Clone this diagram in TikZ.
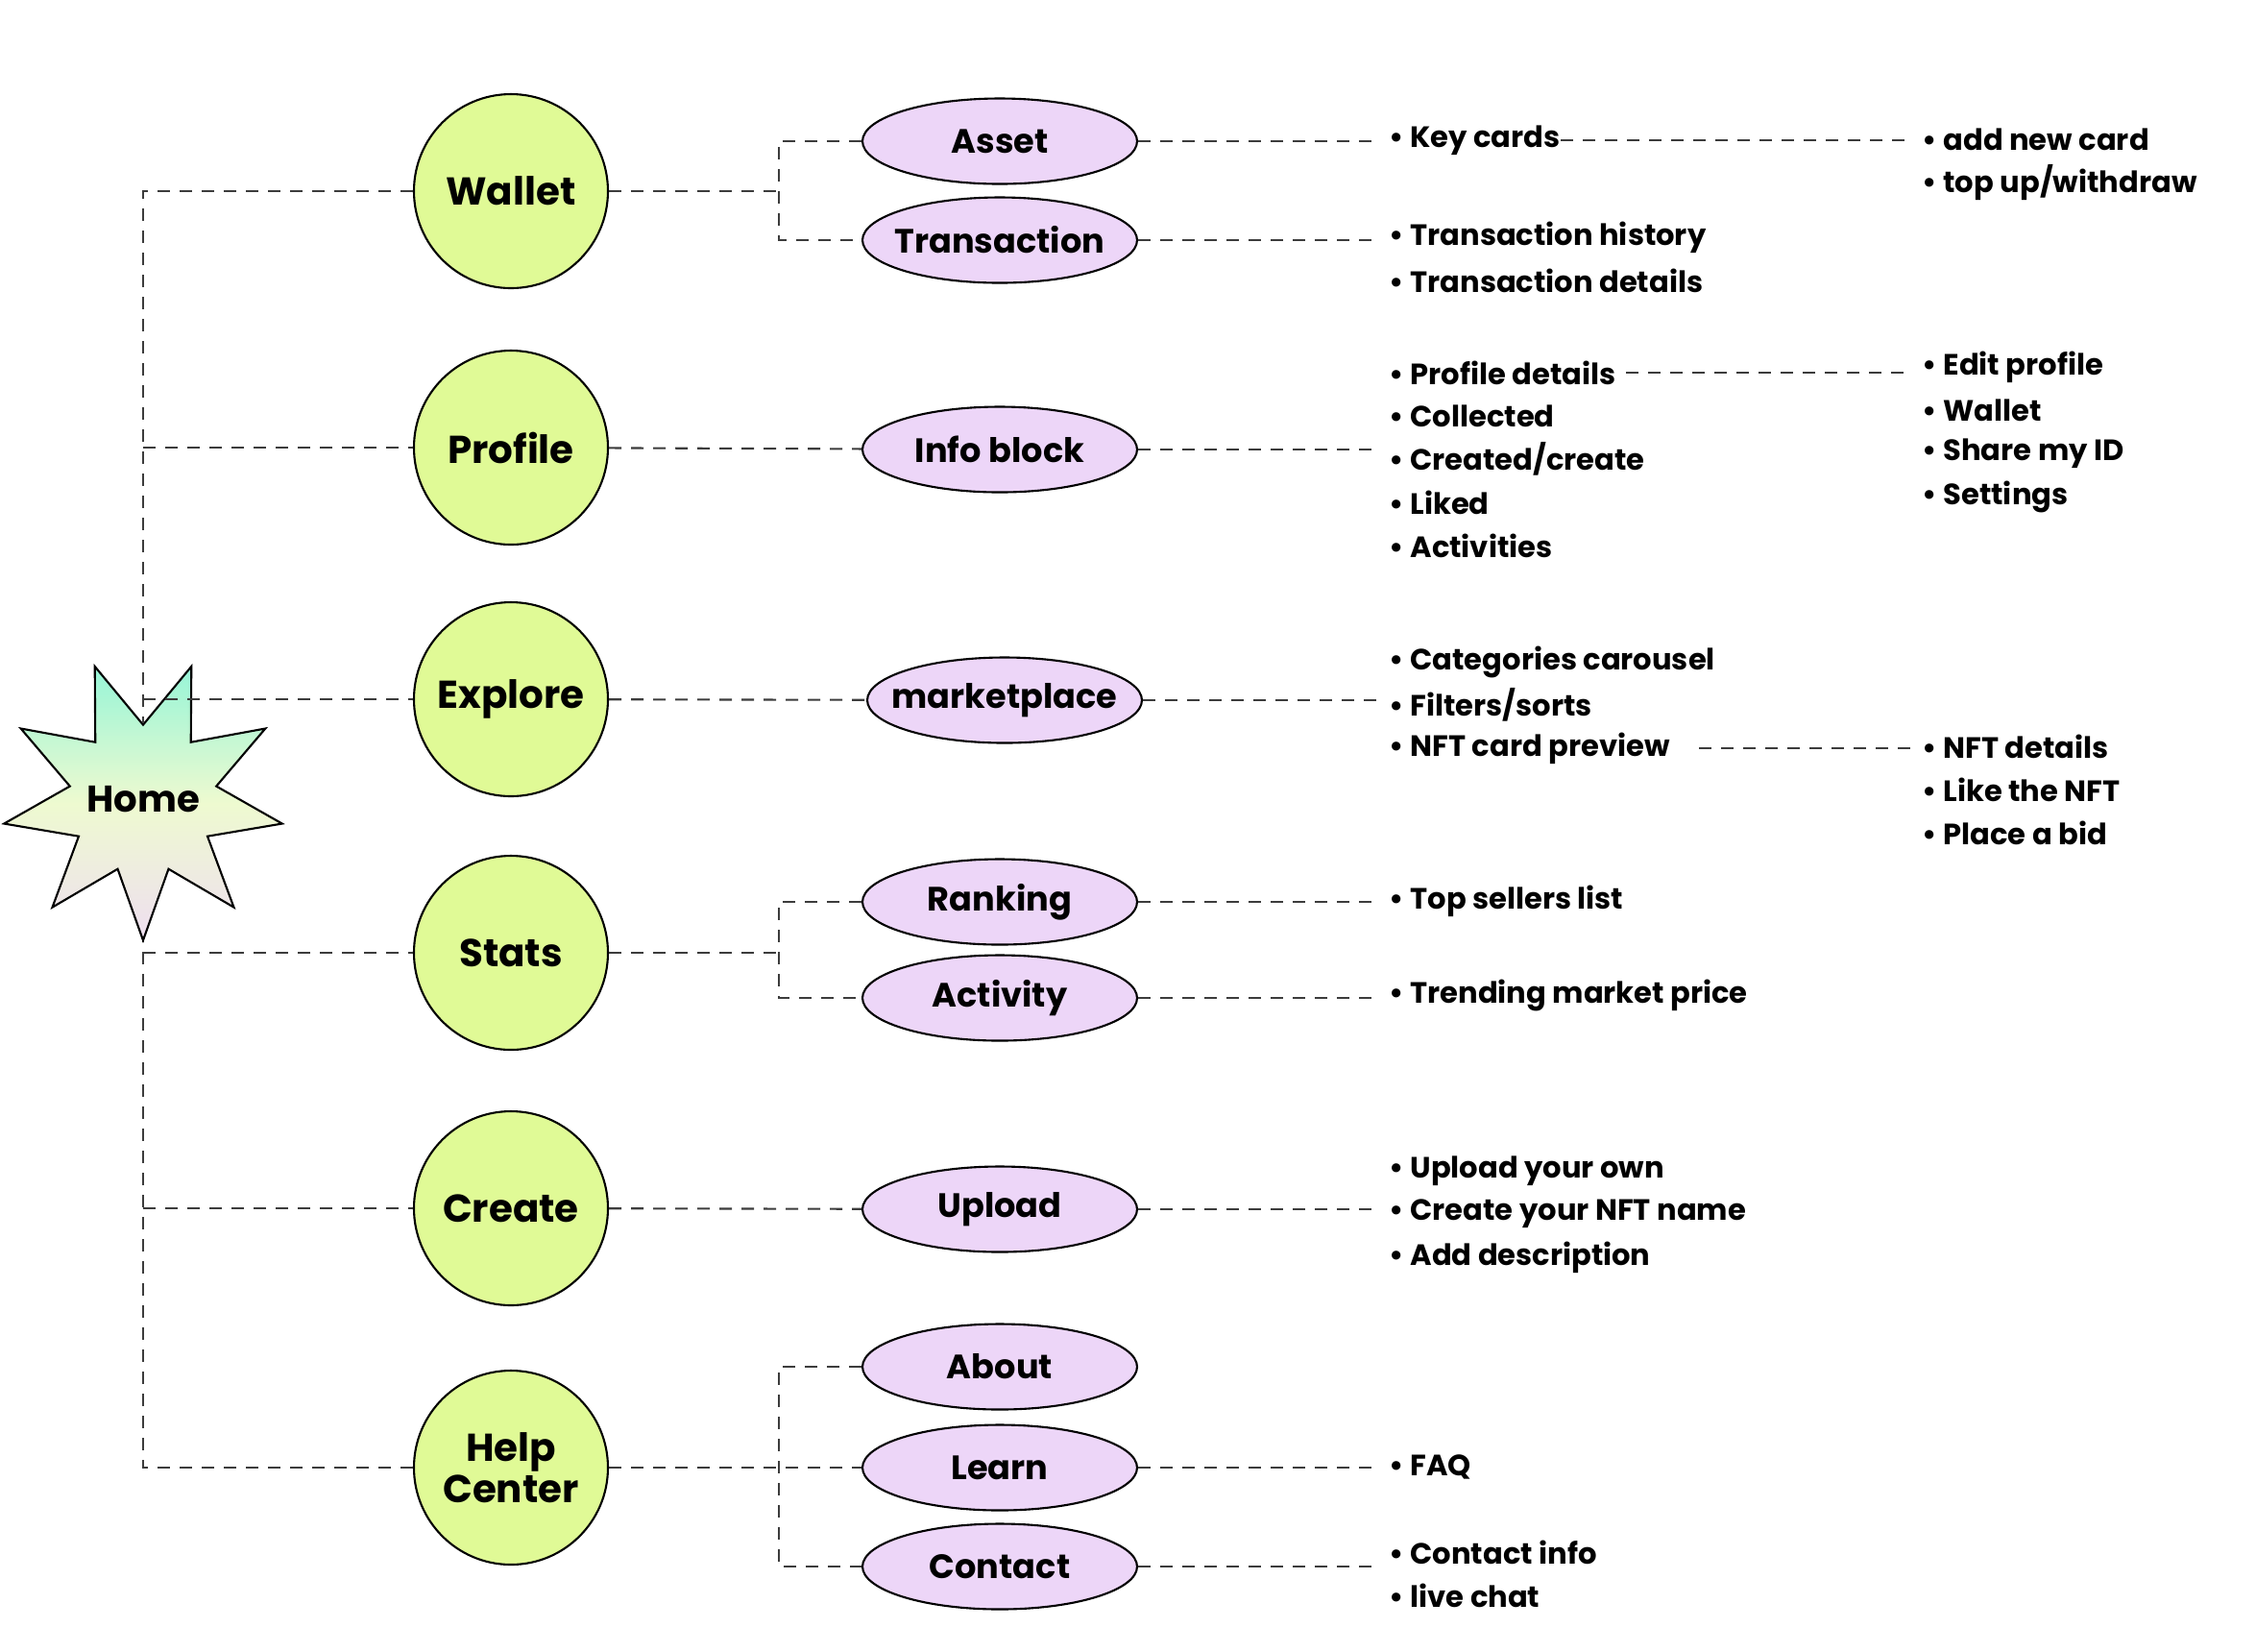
\documentclass[tikz,border=0pt]{standalone}
\usepackage{fontspec}
\setmainfont{Poppins}
\definecolor{hubgreen}{RGB}{224,250,150}
\definecolor{leaflilac}{RGB}{237,214,248}
\definecolor{starmint}{RGB}{150,245,215}
\definecolor{starcream}{RGB}{238,250,208}
\definecolor{starmauve}{RGB}{238,222,240}
\definecolor{linkgray}{RGB}{60,60,60}
\usetikzlibrary{shapes.geometric,positioning}

\begin{document}
\begin{tikzpicture}[
  homestar/.style={
    star, star points=9, star point ratio=1.9,
    shape border rotate=180,
    minimum size=2.94cm, inner sep=-0.3cm,
    draw=black, line width=0.6pt,
    top color=starmint, bottom color=starmauve, middle color=starcream,
    font=\bfseries\fontsize{11}{12}\selectfont
  },
  hub/.style={
    circle, minimum size=2.02cm, inner sep=0pt,
    draw=black, line width=0.6pt,
    fill=hubgreen,
    align=center,
    font=\bfseries\fontsize{11.5}{11}\selectfont
  },
  leaf/.style={
    ellipse, minimum width=2.86cm, minimum height=0.89cm,
    inner xsep=-0.5cm, inner ysep=0pt,
    draw=black, line width=0.6pt,
    fill=leaflilac,
    font=\bfseries\fontsize{10}{12}\selectfont
  },
  item/.style={anchor=west, inner xsep=0.1cm, inner ysep=0.04cm,
    font=\bfseries\fontsize{8.7}{10}\selectfont},
  link/.style={draw=linkgray, line width=0.6pt, dash pattern=on 0.13cm off 0.1cm}
]
\useasboundingbox (0,0) rectangle (23.49,-17.19);

% main branches
\node[hub] (wallet)  at (5.32,-1.99)  {Wallet};
\node[hub] (profile) at (5.32,-4.66)  {Profile};
\node[hub] (explore) at (5.32,-7.28)  {Explore};
\node[hub] (stats)   at (5.32,-9.92)  {Stats};
\node[hub] (create)  at (5.32,-12.58) {Create};
\node[hub] (help)    at (5.32,-15.28) {Help\\Center};

% trunk first, star on top
\draw[link] (wallet) -| (1.49,-8.32);
\draw[link] (help) -| (1.49,-8.32);
\node[homestar] (home) at (1.49,-8.32) {Home};
\draw[link] (wallet) -| (home);
\draw[link] (help) -| (home);
\draw[link] (home |- profile) -- (profile);
\draw[link] (home |- explore) -- (explore);
\draw[link] (home |- stats) -- (stats);
\draw[link] (home |- create) -- (create);

% second level
\node[leaf] (asset)    at (10.41,-1.47)  {Asset};
\node[leaf] (trans)    at (10.41,-2.50)  {Transaction};
\node[leaf] (info)     at (10.41,-4.68)  {Info block};
\node[leaf] (market)   at (10.46,-7.29)  {marketplace};
\node[leaf] (ranking)  at (10.41,-9.39)  {Ranking};
\node[leaf] (activity) at (10.41,-10.39) {Activity};
\node[leaf] (upload)   at (10.41,-12.59) {Upload};
\node[leaf] (about)    at (10.41,-14.23) {About};
\node[leaf] (learn)    at (10.41,-15.28) {Learn};
\node[leaf] (contact)  at (10.41,-16.31) {Contact};

\coordinate (wfork) at (8.11,-1.99);
\coordinate (sfork) at (8.11,-9.92);
\coordinate (hfork) at (8.11,-15.28);

\draw[link] (wallet) -- (wfork);
\draw[link] (asset) -| (wfork) |- (trans);
\draw[link] (profile) -- (info);
\draw[link] (explore) -- (market);
\draw[link] (stats) -- (sfork);
\draw[link] (ranking) -| (sfork) |- (activity);
\draw[link] (create) -- (upload);
\draw[link] (help) -- (learn);
\draw[link] (about) -| (hfork) |- (contact);

% lists
\node[item] (kc) at (14.36,-1.46) {\textbullet\ Key cards};
\foreach \t [count=\i] in {Transaction history, Transaction details}
  \node[item] (tr\i) at (14.36,{-2.47-0.45*(\i-1)}) {\textbullet\ \t};
\foreach \t [count=\i] in {Profile details, Collected, Created/create, Liked, Activities}
  \node[item] (pr\i) at (14.36,{-3.88-0.45*(\i-1)}) {\textbullet\ \t};
\foreach \t [count=\i] in {Categories carousel, Filters/sorts, NFT card preview}
  \node[item] (mk\i) at (14.36,{-6.89-0.45*(\i-1)}) {\textbullet\ \t};
\node[item] (ts) at (14.36,-9.38)  {\textbullet\ Top sellers list};
\node[item] (tm) at (14.36,-10.36) {\textbullet\ Trending market price};
\foreach \t [count=\i] in {Upload your own, Create your NFT name, Add description}
  \node[item] (up\i) at (14.36,{-12.19-0.45*(\i-1)}) {\textbullet\ \t};
\node[item] (faq) at (14.36,-15.27) {\textbullet\ FAQ};
\foreach \t [count=\i] in {Contact info, live chat}
  \node[item] (ct\i) at (14.36,{-16.16-0.45*(\i-1)}) {\textbullet\ \t};

\foreach \t [count=\i] in {add new card, top up/withdraw}
  \node[item] (ad\i) at (19.91,{-1.45-0.45*(\i-1)}) {\textbullet\ \t};
\foreach \t [count=\i] in {Edit profile, Wallet, Share my ID, Settings}
  \node[item] (ed\i) at (19.91,{-3.82-0.45*(\i-1)}) {\textbullet\ \t};
\foreach \t [count=\i] in {NFT details, Like the NFT, Place a bid}
  \node[item] (nd\i) at (19.91,{-7.77-0.45*(\i-1)}) {\textbullet\ \t};

\draw[link] (asset) -- (asset -| kc.west);
\draw[link] (trans) -- (trans -| tr1.west);
\draw[link] (info) -- (info -| pr1.west);
\draw[link] (market) -- (market -| mk1.west);
\draw[link] (ranking) -- (ranking -| ts.west);
\draw[link] (activity) -- (activity -| tm.west);
\draw[link] (upload) -- (upload -| up1.west);
\draw[link] (learn) -- (learn -| faq.west);
\draw[link] (contact) -- (contact -| ct1.west);

\draw[link, shorten <=-0.1cm] (kc.east) -- (kc.east -| ad1.west);
\draw[link] (pr1.east) -- (pr1.east -| ed1.west);
\draw[link, shorten <=0.2cm] (mk3.east) -- (mk3.east -| nd1.west);
\end{tikzpicture}
\end{document}
